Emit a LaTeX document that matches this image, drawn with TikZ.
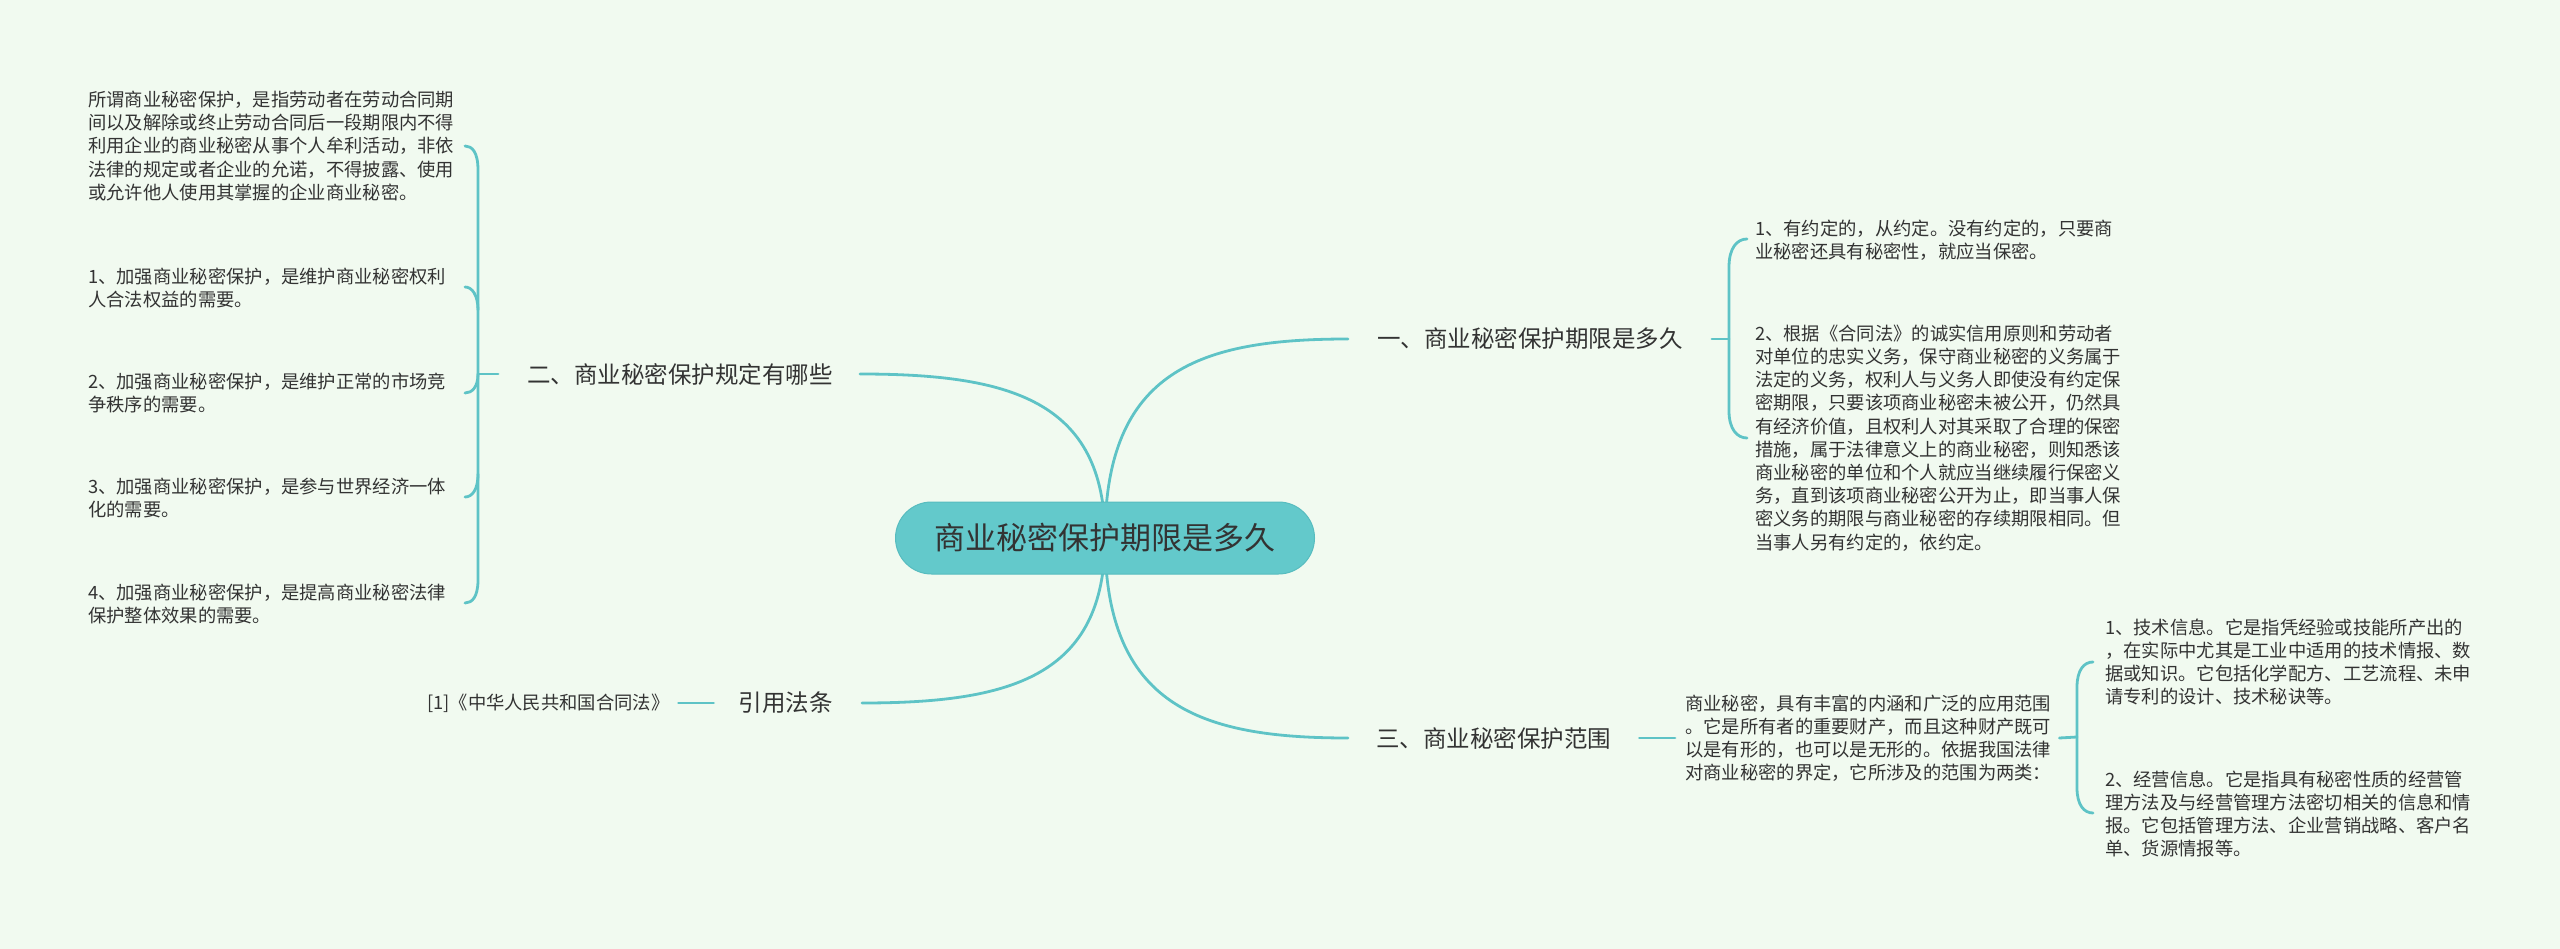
\documentclass[tikz,border=0pt]{standalone}
\usepackage{fontspec}
\setmainfont{Noto Sans CJK SC}
\definecolor{bgc}{HTML}{F1FAF0}
\definecolor{lnc}{HTML}{5EC3C6}
\definecolor{hubfill}{HTML}{63C9CB}
\definecolor{hubline}{HTML}{57BCBF}
\definecolor{txtc}{HTML}{333333}
\begin{document}
\begin{tikzpicture}[x=1pt,y=-1pt,
  conn/.style={draw=lnc, line width=2.8pt, line cap=round},
  leaf/.style={anchor=west, inner sep=0pt, align=left, text=txtc, font=\fontsize{18.3}{23.2}\selectfont},
  topic/.style={inner sep=0pt, text=txtc, font=\fontsize{23.5}{28}\selectfont},
  hubnode/.style={rectangle, rounded corners=36pt, minimum width=419pt, minimum height=72pt, fill=hubfill, draw=hubline, line width=1pt, text=txtc, font=\fontsize{31}{36}\selectfont}
]
\fill[bgc] (0,0) rectangle (2560,949);
\useasboundingbox (0,0) rectangle (2560,949);

% topics
\node[topic, anchor=west] (n1) at (1377,339) {一、商业秘密保护期限是多久};
\node[topic, anchor=east] (n2) at (833,374) {二、商业秘密保护规定有哪些};
\node[topic, anchor=east] (n3) at (833,703) {引用法条};
\node[topic, anchor=west] (n4) at (1376,738) {三、商业秘密保护范围};

\coordinate (hubc) at (1105,538);

% main curves
\draw[conn] (hubc) .. controls (1105,370) and (1200,339) .. ([xshift=-29pt]n1.west);
\draw[conn] (hubc) .. controls (1105,400) and (1009,374) .. ([xshift=27pt]n2.east);
\draw[conn] (hubc) .. controls (1105,677) and (1010,703) .. ([xshift=29pt]n3.east);
\draw[conn] (hubc) .. controls (1105,706) and (1200,738) .. ([xshift=-28pt]n4.west);

\node[hubnode] (hub) at (hubc) {商业秘密保护期限是多久};

% left leaves
\node[leaf] (l0) at (88,146) {所谓商业秘密保护，是指劳动者在劳动合同期\\间以及解除或终止劳动合同后一段期限内不得\\利用企业的商业秘密从事个人牟利活动，非依\\法律的规定或者企业的允诺，不得披露、使用\\或允许他人使用其掌握的企业商业秘密。};
\node[leaf] (l1) at (88,288) {1、加强商业秘密保护，是维护商业秘密权利\\人合法权益的需要。};
\node[leaf] (l2) at (88,393) {2、加强商业秘密保护，是维护正常的市场竞\\争秩序的需要。};
\node[leaf] (l3) at (88,498) {3、加强商业秘密保护，是参与世界经济一体\\化的需要。};
\node[leaf] (l4) at (88,604) {4、加强商业秘密保护，是提高商业秘密法律\\保护整体效果的需要。};

% left bracket
\coordinate (bl) at (478,374);
\draw[conn] ([xshift=-29pt]n2.west) -- (bl);
\draw[conn] (465,146) .. controls (472,146) and (478,152) .. (478,170) -- (478,580) .. controls (478,597) and (472,603) .. (465,603);
\draw[conn] (478,310) .. controls (478,295) and (472,287) .. (465,287);
\draw[conn] (bl) .. controls (478,387) and (472,393) .. (465,393);
\draw[conn] (478,474) .. controls (478,490) and (472,497) .. (465,497);

% right top leaves
\node[leaf] (r1) at (1755,240) {1、有约定的，从约定。没有约定的，只要商\\业秘密还具有秘密性，就应当保密。};
\node[leaf] (r2) at (1755,438) {2、根据《合同法》的诚实信用原则和劳动者\\对单位的忠实义务，保守商业秘密的义务属于\\法定的义务，权利人与义务人即使没有约定保\\密期限，只要该项商业秘密未被公开，仍然具\\有经济价值，且权利人对其采取了合理的保密\\措施，属于法律意义上的商业秘密，则知悉该\\商业秘密的单位和个人就应当继续履行保密义\\务，直到该项商业秘密公开为止，即当事人保\\密义务的期限与商业秘密的存续期限相同。但\\当事人另有约定的，依约定。};

\coordinate (br) at (1729,339);
\draw[conn] ([xshift=29pt]n1.east) -- (br);
\draw[conn] (1747,239) .. controls (1737,239) and (1729,248) .. (1729,267) -- (1729,411) .. controls (1729,429) and (1737,438) .. (1747,438);

% citation
\node[leaf] (cite) at (427,703) {[1]《中华人民共和国合同法》};
\draw[conn] ([xshift=-25pt]n3.west) -- ([xshift=9pt]cite.east);

% bottom right
\node[leaf] (desc) at (1685,738) {商业秘密，具有丰富的内涵和广泛的应用范围\\。它是所有者的重要财产，而且这种财产既可\\以是有形的，也可以是无形的。依据我国法律\\对商业秘密的界定，它所涉及的范围为两类：};
\draw[conn] ([xshift=28pt]n4.east) -- ([xshift=-10pt]desc.west);

\node[leaf] (i1) at (2105,662) {1、技术信息。它是指凭经验或技能所产出的\\，在实际中尤其是工业中适用的技术情报、数\\据或知识。它包括化学配方、工艺流程、未申\\请专利的设计、技术秘诀等。};
\node[leaf] (i2) at (2105,814) {2、经营信息。它是指具有秘密性质的经营管\\理方法及与经营管理方法密切相关的信息和情\\报。它包括管理方法、企业营销战略、客户名\\单、货源情报等。};

\coordinate (bb) at (2077,737);
\draw[conn] ([xshift=8pt]desc.east) -- (bb);
\draw[conn] (2093,662) .. controls (2084,662) and (2077,670) .. (2077,687) -- (2077,788) .. controls (2077,805) and (2084,813) .. (2093,813);
\end{tikzpicture}
\end{document}
